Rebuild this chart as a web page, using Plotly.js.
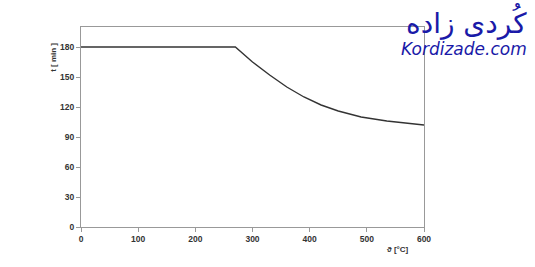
<!DOCTYPE html>
<html><head><meta charset="utf-8">
<script src="https://cdn.plot.ly/plotly-3.0.1.min.js"></script>
<style>html,body{margin:0;padding:0;background:#fff}#c{width:535px;height:267px}</style>
</head><body><div id="c"></div>
<script>
const temps = [0, 270, 300, 330, 360, 390, 420, 450, 490, 535, 600];
const times = [180, 180, 165, 152, 140, 130, 122, 116, 110, 106, 102];
const xTicks = [0, 100, 200, 300, 400, 500, 600];
const yTicks = [0, 30, 60, 90, 120, 150, 180];

const tickFont = {family: 'Liberation Sans, Arial', size: 8.5, color: '#333', weight: 'bold'};
const trace = {x: temps, y: times, mode: 'lines', type: 'scatter',
  line: {color: '#333', width: 1.4}, hoverinfo: 'none'};
const layout = {
  width: 535, height: 267, showlegend: false,
  margin: {l: 81, r: 111, t: 27, b: 40},
  paper_bgcolor: '#fff', plot_bgcolor: '#fff',
  xaxis: {range: [0, 600], tickvals: xTicks, ticks: 'outside', ticklen: 4, tickcolor: '#999',
    showgrid: false, zeroline: false, showline: true, linecolor: '#999', linewidth: 1, mirror: true,
    tickfont: tickFont},
  yaxis: {range: [0, 200], tickvals: yTicks, ticks: 'outside', ticklen: 4, tickcolor: '#999',
    showgrid: false, zeroline: false, showline: true, linecolor: '#999', linewidth: 1, mirror: true,
    tickfont: tickFont},
  annotations: [
    {text: 't [ min ]', xref: 'paper', yref: 'paper', x: -0.082, y: 0.85, xanchor: 'center', yanchor: 'middle',
      showarrow: false, textangle: -90, font: {family: 'Liberation Sans, Arial', size: 8, color: '#333', weight: 'bold'}},
    {text: 'ϑ [°C]', xref: 'paper', yref: 'paper', x: 0.924, y: -0.11, xanchor: 'center', yanchor: 'middle',
      showarrow: false, font: {family: 'Liberation Sans, Arial', size: 8, color: '#333', weight: 'bold'}},
    {text: 'کُردی زاده', xref: 'paper', yref: 'paper', x: 1.305, y: 1.13, xanchor: 'right', yanchor: 'top',
      showarrow: false, font: {family: 'DejaVu Sans', size: 28, color: '#1a1aa8'}},
    {text: '<i>Kordizade.com</i>', xref: 'paper', yref: 'paper', x: 1.305, y: 0.95, xanchor: 'right', yanchor: 'top',
      showarrow: false, font: {family: 'DejaVu Sans', size: 17, color: '#1a1aa8'}}
  ]
};
Plotly.newPlot('c', [trace], layout, {staticPlot: true});
</script></body></html>
